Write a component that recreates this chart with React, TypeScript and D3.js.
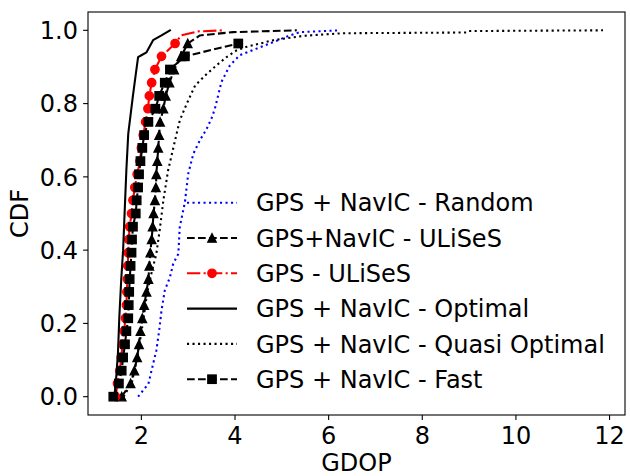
import React from "react";
import * as d3 from "d3";

// Empirical CDF levels shared by the marked series
const cdfSteps = [
  0, 0.036, 0.071, 0.107, 0.143, 0.179, 0.214, 0.25, 0.286, 0.321, 0.357, 0.393, 0.429, 0.464,
  0.5, 0.536, 0.571, 0.607, 0.643, 0.679, 0.714, 0.75, 0.786, 0.821, 0.857, 0.893, 0.929, 0.964,
];

// GDOP values at each CDF step
const ulisesNavicX = [
  1.58, 1.77, 1.85, 1.91, 1.95, 1.98, 2.02, 2.06, 2.11, 2.15, 2.17, 2.19, 2.22, 2.24,
  2.26, 2.29, 2.31, 2.32, 2.34, 2.36, 2.38, 2.40, 2.47, 2.52, 2.60, 2.70, 2.85, 2.99,
];
const ulisesNavicTail: [number, number][] = [[3.25, 0.986], [3.96, 0.995], [5.32, 1.0]];

const ulisesGpsX = [
  1.45, 1.49, 1.54, 1.57, 1.60, 1.63, 1.66, 1.68, 1.69, 1.70, 1.71, 1.72, 1.73, 1.75,
  1.79, 1.82, 1.86, 1.91, 1.97, 2.00, 2.04, 2.09, 2.14, 2.17, 2.22, 2.29, 2.43, 2.72,
];
const ulisesGpsTail: [number, number][] = [[2.85, 0.986], [3.2, 0.997], [3.74, 1.0]];

const fastX = [
  1.40, 1.52, 1.58, 1.61, 1.65, 1.68, 1.72, 1.73, 1.74, 1.75, 1.77, 1.79, 1.80, 1.82,
  1.88, 1.90, 1.93, 1.95, 1.98, 2.02, 2.06, 2.15, 2.30, 2.38, 2.50, 2.61, 2.93, 4.07,
];

const randomPts: [number, number][] = [
  [1.93, 0], [2.15, 0.035], [2.25, 0.089], [2.32, 0.126], [2.38, 0.18], [2.43, 0.235],
  [2.5, 0.29], [2.61, 0.326], [2.68, 0.363], [2.79, 0.39], [2.82, 0.463], [2.93, 0.531],
  [3.0, 0.608], [3.11, 0.663], [3.25, 0.7], [3.39, 0.73], [3.5, 0.76], [3.57, 0.786],
  [3.71, 0.859], [3.89, 0.904], [4.1, 0.932], [4.46, 0.95], [4.82, 0.968], [5.17, 0.986],
  [5.39, 0.995], [6.24, 1.0],
];

const optimalPts: [number, number][] = [
  [1.42, 0], [1.45, 0.03], [1.5, 0.12], [1.53, 0.22], [1.57, 0.32], [1.61, 0.4],
  [1.65, 0.527], [1.68, 0.62], [1.72, 0.718], [1.77, 0.77], [1.82, 0.822], [1.88, 0.88],
  [1.93, 0.927], [2.0, 0.932], [2.11, 0.94], [2.25, 0.973], [2.43, 0.986], [2.61, 1.0],
];

const quasiPts: [number, number][] = [
  [1.62, 0], [1.8, 0.04], [1.93, 0.12], [2.03, 0.2], [2.12, 0.28], [2.22, 0.34],
  [2.32, 0.39], [2.4, 0.463], [2.47, 0.536], [2.57, 0.617], [2.72, 0.7], [2.82, 0.754],
  [2.97, 0.8], [3.15, 0.85], [3.39, 0.88], [3.61, 0.905], [3.82, 0.927], [4.03, 0.945],
  [4.25, 0.955], [4.53, 0.964], [4.82, 0.973], [5.46, 0.985], [6.3, 0.992], [8.95, 0.994],
  [9.0, 0.998], [11.86, 1.0],
];

const xTicks = [2, 4, 6, 8, 10, 12];
const yTicks = [0, 0.2, 0.4, 0.6, 0.8, 1.0];

const legendLabels = [
  "GPS + NavIC - Random",
  "GPS+NavIC - ULiSeS",
  "GPS - ULiSeS",
  "GPS + NavIC - Optimal",
  "GPS + NavIC - Quasi Optimal",
  "GPS + NavIC - Fast",
];

const W = 630;
const H = 476;
const plot = { left: 88, right: 625, top: 12, bottom: 415 };
const FONT = "DejaVu Sans, sans-serif";
const FS = 24;
const LW = 2.08;

type Marker = "none" | "triangle" | "circle" | "square";

interface Series {
  points: [number, number][];
  markers: [number, number][];
  color: string;
  dash: string;
  marker: Marker;
  label: string;
}

const zip = (xs: number[], ys: number[]): [number, number][] => xs.map((x, i) => [x, ys[i]]);

const series: Series[] = [
  { points: randomPts, markers: [], color: "#0000ff", dash: "2.1,3.4", marker: "none", label: legendLabels[0] },
  {
    points: [...zip(ulisesNavicX, cdfSteps), ...ulisesNavicTail],
    markers: zip(ulisesNavicX, cdfSteps),
    color: "#000000", dash: "7.7,3.3", marker: "triangle", label: legendLabels[1],
  },
  {
    points: [...zip(ulisesGpsX, cdfSteps), ...ulisesGpsTail],
    markers: zip(ulisesGpsX, cdfSteps),
    color: "#ff0000", dash: "13.3,3.3,2.1,3.3", marker: "circle", label: legendLabels[2],
  },
  { points: optimalPts, markers: [], color: "#000000", dash: "", marker: "none", label: legendLabels[3] },
  { points: quasiPts, markers: [], color: "#000000", dash: "2.1,3.4", marker: "none", label: legendLabels[4] },
  {
    points: zip(fastX, cdfSteps),
    markers: zip(fastX, cdfSteps),
    color: "#000000", dash: "7.7,3.3", marker: "square", label: legendLabels[5],
  },
];

const MS = 8.33;

function MarkerShape({ kind, x, y, color }: { kind: Marker; x: number; y: number; color: string }) {
  const h = MS / 2;
  if (kind === "triangle") {
    return (
      <path
        d={`M${x},${y - h}L${x - h},${y + h}L${x + h},${y + h}Z`}
        fill={color}
        stroke={color}
        strokeWidth={1.39}
        strokeLinejoin="miter"
      />
    );
  }
  if (kind === "circle") {
    return <circle cx={x} cy={y} r={h} fill={color} stroke={color} strokeWidth={1.39} />;
  }
  if (kind === "square") {
    return <rect x={x - h} y={y - h} width={MS} height={MS} fill={color} stroke={color} strokeWidth={1.39} />;
  }
  return null;
}

export default function App() {
  const x = d3.scaleLinear().domain([0.86, 12.33]).range([plot.left, plot.right]);
  const y = d3.scaleLinear().domain([-0.05, 1.05]).range([plot.bottom, plot.top]);
  const line = d3
    .line<[number, number]>()
    .x((d) => x(d[0]))
    .y((d) => y(d[1]));

  const legendX0 = 187;
  const legendX1 = 237;
  const legendY0 = 202.7;
  const legendStep = 35.3;
  const midOffset = FS * 0.3645;

  return (
    <svg
      width={W}
      height={H}
      style={{ position: "absolute", left: 0, top: 0, background: "#fff" }}
      fontFamily={FONT}
    >
      <rect width={W} height={H} fill="#fff" />
      <defs>
        <clipPath id="plotArea">
          <rect x={plot.left} y={plot.top} width={plot.right - plot.left} height={plot.bottom - plot.top} />
        </clipPath>
      </defs>

      <g clipPath="url(#plotArea)">
        {series.map((s, i) => (
          <g key={i}>
            <path
              d={line(s.points) ?? ""}
              fill="none"
              stroke={s.color}
              strokeWidth={LW}
              strokeDasharray={s.dash || undefined}
              strokeLinejoin="round"
              strokeLinecap={s.dash ? "butt" : "square"}
            />
            {s.markers.map((m, j) => (
              <MarkerShape key={j} kind={s.marker} x={x(m[0])} y={y(m[1])} color={s.color} />
            ))}
          </g>
        ))}
      </g>

      {/* frame */}
      <rect
        x={plot.left}
        y={plot.top}
        width={plot.right - plot.left}
        height={plot.bottom - plot.top}
        fill="none"
        stroke="#000"
        strokeWidth={1.1}
      />

      {/* x axis */}
      {xTicks.map((t) => (
        <g key={t}>
          <line x1={x(t)} x2={x(t)} y1={plot.bottom} y2={plot.bottom + 4.9} stroke="#000" strokeWidth={1.1} />
          <text x={x(t)} y={444} fontSize={FS} textAnchor="middle" fill="#000">
            {t}
          </text>
        </g>
      ))}
      <text x={(plot.left + plot.right) / 2} y={471} fontSize={FS} textAnchor="middle" fill="#000">
        GDOP
      </text>

      {/* y axis */}
      {yTicks.map((t) => (
        <g key={t}>
          <line x1={plot.left - 4.9} x2={plot.left} y1={y(t)} y2={y(t)} stroke="#000" strokeWidth={1.1} />
          <text x={78} y={y(t) + midOffset} fontSize={FS} textAnchor="end" fill="#000">
            {t.toFixed(1)}
          </text>
        </g>
      ))}
      <text
        transform={`translate(28,${(plot.top + plot.bottom) / 2}) rotate(-90)`}
        fontSize={FS}
        textAnchor="middle"
        fill="#000"
      >
        CDF
      </text>

      {/* legend */}
      {series.map((s, i) => {
        const ly = legendY0 + i * legendStep;
        return (
          <g key={i}>
            <line
              x1={legendX0}
              x2={legendX1}
              y1={ly}
              y2={ly}
              stroke={s.color}
              strokeWidth={LW}
              strokeDasharray={s.dash || undefined}
            />
            <MarkerShape kind={s.marker} x={(legendX0 + legendX1) / 2} y={ly} color={s.color} />
            <text x={256} y={ly + midOffset} fontSize={FS} fill="#000">
              {s.label}
            </text>
          </g>
        );
      })}
    </svg>
  );
}
